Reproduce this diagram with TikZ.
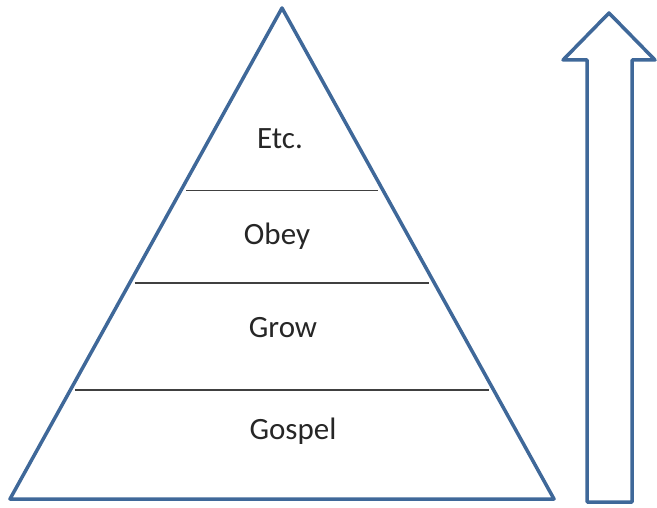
\documentclass[tikz,border=0pt]{standalone}
\usepackage{fontspec}
\setmainfont{Carlito}
\usetikzlibrary{positioning}
\definecolor{outline}{HTML}{3F6899}
\tikzstyle{edge} = [draw=outline, line width=3.5pt, line join=round]
\tikzstyle{level} = [draw=black!75, line width=1.3pt, shorten <=5pt, shorten >=5pt]
\tikzstyle{tier} = [font=\fontsize{31}{36}\selectfont, text=black!85, inner sep=0pt]
\begin{document}
\begin{tikzpicture}[x=1pt,y=-1pt]
  \useasboundingbox (0,0) rectangle (657,508);
  % Place corners
  \coordinate (apex) at (282,8);
  \coordinate (bl) at (10,499);
  \coordinate (br) at (554,499);
  \draw[edge] (apex) -- (br) -- (bl) -- cycle;
  % Draw levels
  \path (apex) -- (bl) coordinate[pos=0.371] (l1) coordinate[pos=0.560] (l2) coordinate[pos=0.778] (l3);
  \path (apex) -- (br) coordinate[pos=0.371] (r1) coordinate[pos=0.560] (r2) coordinate[pos=0.778] (r3);
  \draw[level] (l1) -- (r1);
  \draw[level] (l2) -- (r2);
  \draw[level] (l3) -- (r3);
  % Place labels
  \node [tier] (etc) at (280,139) {Etc.};
  \node [tier] (obey) at (277,236) {Obey};
  \node [tier] (grow) at (283,328) {Grow};
  \node [tier] (gospel) at (293,431) {Gospel};
  % Draw arrow
  \draw[edge] (609,13) -- (655,60) -- (632,60) -- (632,502)
    -- (587,502) -- (587,60) -- (563,60) -- cycle;
\end{tikzpicture}
\end{document}
